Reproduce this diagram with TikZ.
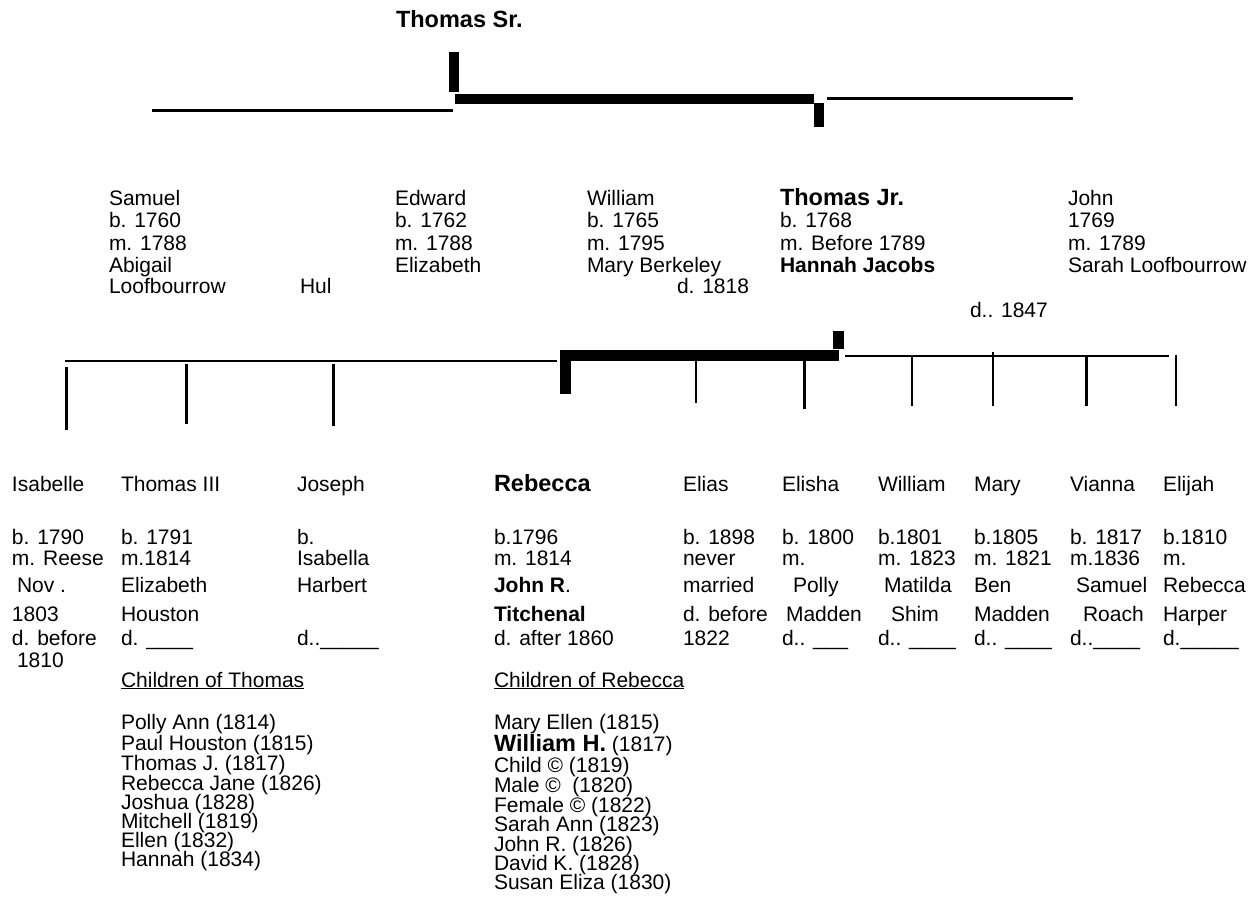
\documentclass[tikz,border=0pt]{standalone}
\usepackage{fontspec}
\setmainfont{Liberation Sans}
\tikzset{
  txt/.style={anchor=base west, inner sep=0pt, outer sep=0pt, font=\fontsize{21}{22}\selectfont},
  bigtxt/.style={anchor=base west, inner sep=0pt, outer sep=0pt, font=\fontsize{23.5}{25}\selectfont\bfseries},
  thinline/.style={line width=2.7pt},
  stemline/.style={line width=2.5pt},
  thickline/.style={line width=10.5pt},
}
\newcommand\tx[4]{\node[txt] (#1) at (#2,#3) {#4};}
\newcommand\bx[4]{\node[bigtxt] (#1) at (#2,#3) {#4};}
\newcommand\seg[6]{\coordinate (#1a) at (#3,#4); \coordinate (#1b) at (#5,#6); \draw[#2] (#1a) -- (#1b);}
\begin{document}
\begin{tikzpicture}[x=1pt,y=-1pt]
\useasboundingbox (0,0) rectangle (1256,914);
% ---------- top generation ----------
\bx{tsr}{396}{27}{Thomas Sr.}
\seg{ta}{thinline}{152}{110.5}{453}{110.5}
\seg{tb}{thickline}{454}{52}{454}{92}
\seg{tc}{thickline}{455}{99}{813.5}{99}
\seg{td}{thickline}{819}{103}{819}{127}
\seg{te}{thinline}{827}{98.5}{1073}{98.5}
% ---------- second generation ----------
\tx{sa1}{109}{205}{Samuel}
\tx{sa2}{109}{227.5}{b. 1760}
\tx{sa3}{109}{250}{m. 1788}
\tx{sa4}{109}{272}{Abigail}
\tx{sa5}{109}{293}{Loofbourrow}
\tx{hul}{300}{293}{Hul}
\tx{ed1}{395}{205}{Edward}
\tx{ed2}{395}{227.5}{b. 1762}
\tx{ed3}{395}{250}{m. 1788}
\tx{ed4}{395}{272}{Elizabeth}
\tx{wi1}{587}{205}{William}
\tx{wi2}{587}{227.5}{b. 1765}
\tx{wi3}{587}{250}{m. 1795}
\tx{wi4}{587}{272}{Mary Berkeley}
\tx{wi5}{677}{293}{d. 1818}
\bx{tj1}{780}{205}{Thomas Jr.}
\tx{tj2}{780}{227.5}{b. 1768}
\tx{tj3}{780}{250}{m. Before 1789}
\tx{tj4}{780}{272}{\bfseries Hannah Jacobs}
\tx{tj5}{970}{317}{d.. 1847}
\tx{jo1}{1068}{205}{John}
\tx{jo2}{1068}{227.5}{1769}
\tx{jo3}{1068}{250}{m. 1789}
\tx{jo4}{1068}{272}{Sarah Loofbourrow}
% ---------- connectors to third generation ----------
\seg{ma}{thinline}{65}{361}{557}{361}
\seg{mb}{stemline}{66.5}{367}{66.5}{430}
\seg{mc}{stemline}{186.5}{364}{186.5}{424}
\seg{md}{stemline}{333.5}{364}{333.5}{426}
\seg{me}{thickline}{560}{355.5}{839}{355.5}
\seg{mf}{thickline}{565.5}{350}{565.5}{394}
\seg{mg}{thickline}{838.5}{331}{838.5}{349}
\seg{mh}{thinline}{845}{356}{1169}{356}
\seg{mi}{stemline}{696}{361}{696}{403}
\seg{mj}{stemline}{804.5}{361}{804.5}{409}
\seg{mk}{stemline}{912}{357}{912}{406}
\seg{ml}{stemline}{993}{352}{993}{406}
\seg{mm}{stemline}{1086.5}{355}{1086.5}{406}
\seg{mn}{stemline}{1176}{355}{1176}{406}
% ---------- third generation ----------
\tx{is0}{12}{491}{Isabelle}
\tx{is1}{12}{544}{b. 1790}
\tx{is2}{12}{565}{m. Reese}
\tx{is3}{17}{592}{Nov .}
\tx{is4}{12}{621}{1803}
\tx{is5}{12}{645}{d. before}
\tx{is6}{17}{667}{1810}
\tx{th0}{121}{491}{Thomas III}
\tx{th1}{121}{544}{b. 1791}
\tx{th2}{121}{565}{m.1814}
\tx{th3}{121}{592}{Elizabeth}
\tx{th4}{121}{621}{Houston}
\tx{th5}{121}{645}{d. \_\_\_\_}
\tx{js0}{297}{491}{Joseph}
\tx{js1}{297}{544}{b.}
\tx{js2}{297}{565}{Isabella}
\tx{js3}{297}{592}{Harbert}
\tx{js5}{297}{645}{d..\_\_\_\_\_}
\bx{rb0}{494}{491}{Rebecca}
\tx{rb1}{494}{544}{b.1796}
\tx{rb2}{494}{565}{m. 1814}
\tx{rb3}{494}{592}{\textbf{John R}.}
\tx{rb4}{494}{621}{\bfseries Titchenal}
\tx{rb5}{494}{645}{d. after 1860}
\tx{el0}{683}{491}{Elias}
\tx{el1}{683}{544}{b. 1898}
\tx{el2}{683}{565}{never}
\tx{el3}{683}{592}{married}
\tx{el4}{683}{621}{d. before}
\tx{el5}{683}{645}{1822}
\tx{eh0}{782}{491}{Elisha}
\tx{eh1}{782}{544}{b. 1800}
\tx{eh2}{782}{565}{m.}
\tx{eh3}{793}{592}{Polly}
\tx{eh4}{786}{621}{Madden}
\tx{eh5}{782}{645}{d.. \_\_\_}
\tx{wm0}{878}{491}{William}
\tx{wm1}{878}{544}{b.1801}
\tx{wm2}{878}{565}{m. 1823}
\tx{wm3}{884}{592}{Matilda}
\tx{wm4}{891}{621}{Shim}
\tx{wm5}{878}{645}{d.. \_\_\_\_}
\tx{my0}{974}{491}{Mary}
\tx{my1}{974}{544}{b.1805}
\tx{my2}{974}{565}{m. 1821}
\tx{my3}{974}{592}{Ben}
\tx{my4}{974}{621}{Madden}
\tx{my5}{974}{645}{d.. \_\_\_\_}
\tx{vi0}{1070}{491}{Vianna}
\tx{vi1}{1070}{544}{b. 1817}
\tx{vi2}{1070}{565}{m.1836}
\tx{vi3}{1076}{592}{Samuel}
\tx{vi4}{1083}{621}{Roach}
\tx{vi5}{1070}{645}{d..\_\_\_\_}
\tx{ej0}{1163}{491}{Elijah}
\tx{ej1}{1163}{544}{b.1810}
\tx{ej2}{1163}{565}{m.}
\tx{ej3}{1163}{592}{Rebecca}
\tx{ej4}{1163}{621}{Harper}
\tx{ej5}{1163}{645}{d.\_\_\_\_\_}
% ---------- children lists ----------
\tx{ct}{121}{687}{\underline{Children of Thomas}}
\tx{cr}{494}{687}{\underline{Children of Rebecca}}
\tx{ct1}{121}{729}{Polly Ann (1814)}
\tx{ct2}{121}{750}{Paul Houston (1815)}
\tx{ct3}{121}{770}{Thomas J. (1817)}
\tx{ct4}{121}{790}{Rebecca Jane (1826)}
\tx{ct5}{121}{809}{Joshua (1828)}
\tx{ct6}{121}{828}{Mitchell (1819)}
\tx{ct7}{121}{847}{Ellen (1832)}
\tx{ct8}{121}{866}{Hannah (1834)}
\tx{cr1}{494}{729}{Mary Ellen (1815)}
\tx{cr2}{494}{751}{{\fontsize{23.5}{25}\selectfont\bfseries William H.} (1817)}
\tx{cr3}{494}{772}{Child © (1819)}
\tx{cr4}{494}{792}{Male ©\ \ (1820)}
\tx{cr5}{494}{812}{Female © (1822)}
\tx{cr6}{494}{831}{Sarah Ann (1823)}
\tx{cr7}{494}{851}{John R. (1826)}
\tx{cr8}{494}{870}{David K. (1828)}
\tx{cr9}{494}{889}{Susan Eliza (1830)}
\end{tikzpicture}
\end{document}
